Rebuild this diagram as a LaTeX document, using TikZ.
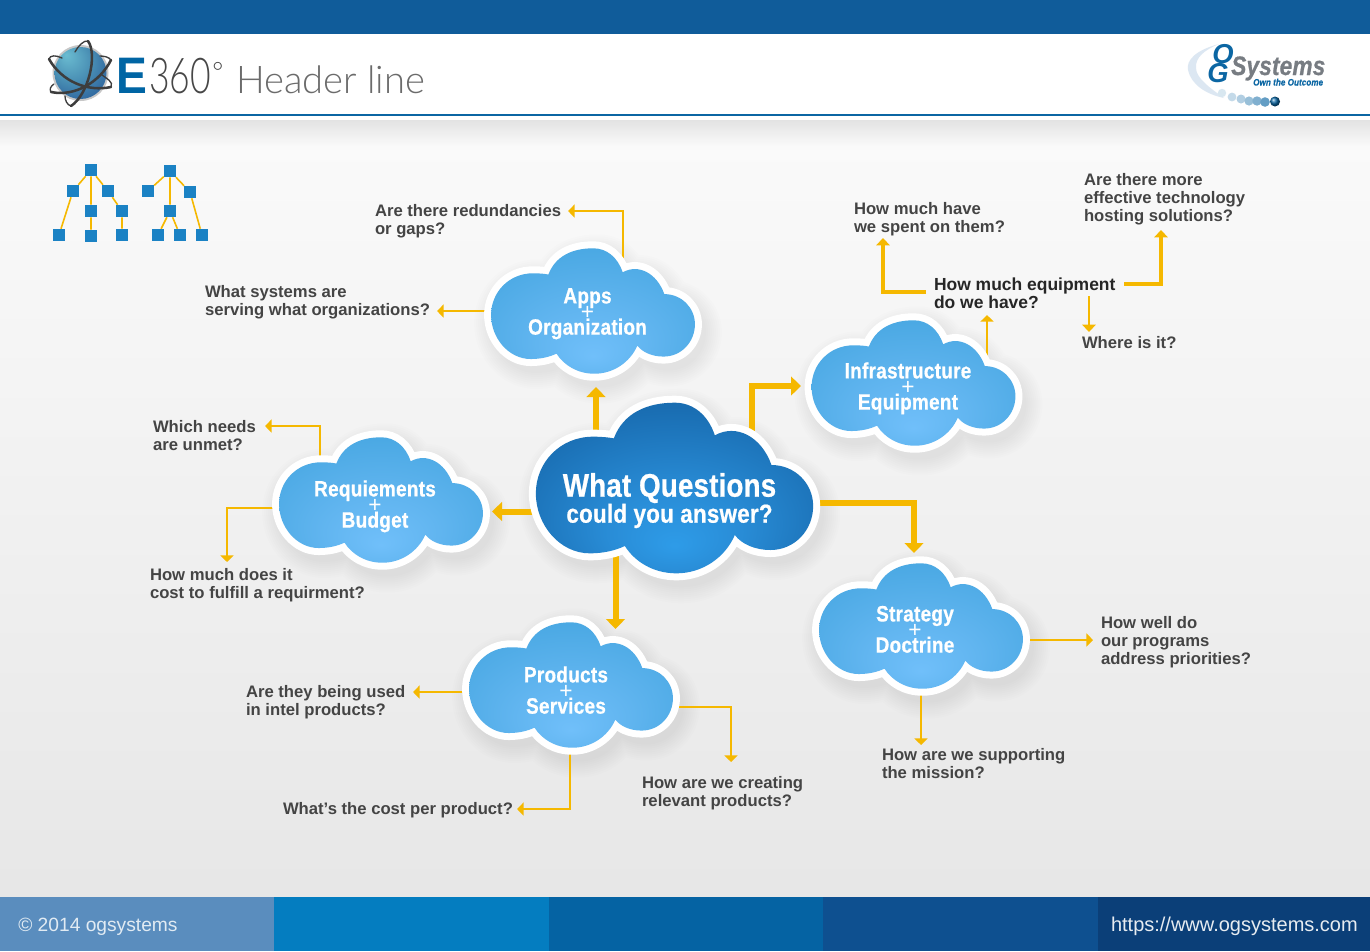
\documentclass[tikz,border=0pt]{standalone}
\usepackage{fontspec}
\setmainfont{Liberation Sans}
\newfontfamily\condfont[FakeStretch=0.85,LetterSpace=0.5,FakeBold=0.7]{Liberation Sans Bold}
\newfontfamily\condwide[FakeStretch=0.86,LetterSpace=1,FakeBold=0.7]{Liberation Sans Bold}
\newfontfamily\logofont[FakeStretch=0.9]{Liberation Sans Bold}
\newfontfamily\lightfont{Lato Light}
\newfontfamily\lightnarrow[FakeStretch=0.72]{Lato Light}
\usetikzlibrary{arrows.meta}
\lineskiplimit=-100pt
\definecolor{arrowy}{HTML}{F5B800}
\definecolor{topblue}{HTML}{105C9A}
\definecolor{linkblue}{HTML}{0B66A3}
\definecolor{sq}{HTML}{1B82C4}
\definecolor{qtext}{HTML}{444444}
\definecolor{foota}{HTML}{5A8DBE}
\definecolor{footb}{HTML}{047DC0}
\definecolor{footc}{HTML}{0563A3}
\definecolor{footd}{HTML}{0E5090}
\definecolor{foote}{HTML}{0B3F78}
\definecolor{orbit}{HTML}{3D3D3D}
\definecolor{logoblue}{HTML}{0065A4}
\definecolor{logogray}{HTML}{777C82}
\definecolor{swoosh}{HTML}{DCE7F2}
\pgfdeclareradialshading{mainshade}{\pgfpoint{0bp}{-17bp}}{rgb(0bp)=(0.18,0.61,0.91); rgb(12bp)=(0.16,0.55,0.84); rgb(30bp)=(0.10,0.43,0.70); rgb(50bp)=(0.07,0.36,0.62)}
\pgfdeclareradialshading{smallshade}{\pgfpoint{0bp}{-18bp}}{rgb(0bp)=(0.44,0.75,0.98); rgb(14bp)=(0.38,0.71,0.94); rgb(32bp)=(0.29,0.66,0.89); rgb(50bp)=(0.27,0.64,0.88)}
\pgfdeclareradialshading{globeshade}{\pgfpoint{-14bp}{18bp}}{rgb(0bp)=(0.42,0.74,0.82); rgb(20bp)=(0.28,0.55,0.70); rgb(38bp)=(0.16,0.36,0.60); rgb(50bp)=(0.12,0.28,0.55)}
\pgfdeclarelayer{bgpage}
\pgfdeclarelayer{shadowlayer}
\pgfdeclarelayer{links}
\pgfsetlayers{bgpage,shadowlayer,links,main}
\tikzset{
  cloudoutline/.style={insert path={
    (402,175) .. controls (430,100) and (500,68) .. (585,68)
    .. controls (640,68) and (685,105) .. (705,166)
    .. controls (770,130) and (845,170) .. (875,255)
    .. controls (945,255) and (1000,310) .. (1000,378)
    .. controls (1000,450) and (945,510) .. (872,510)
    .. controls (825,510) and (785,492) .. (765,465)
    .. controls (735,535) and (665,580) .. (590,580)
    .. controls (520,580) and (465,545) .. (435,498)
    .. controls (405,512) and (370,520) .. (330,520)
    .. controls (240,520) and (168,435) .. (168,340)
    .. controls (168,248) and (240,170) .. (340,170)
    .. controls (365,170) and (385,172) .. (402,175) -- cycle}},
  qnode/.style={inner sep=0pt,outer sep=0pt,anchor=west,align=left,text=qtext,font=\fontsize{12.5}{13.5}\selectfont\bfseries},
  thick link/.style={draw=arrowy,line width=4.5pt,-{Triangle[length=7.5pt,width=14pt]}},
  mid link/.style={draw=arrowy,line width=2.7pt,-{Triangle[length=5.5pt,width=10pt]}},
  thin link/.style={draw=arrowy,line width=1.8pt,-{Triangle[length=5pt,width=9.75pt]}},
  smallc/.style={inner sep=0pt,align=center,text=white,font=\condwide\fontsize{16.6}{11.7}\selectfont},
  sqnode/.style={fill=sq,inner sep=0pt,minimum size=9pt},
  treeline/.style={draw=arrowy,line width=1.2pt},
  foot/.style={inner sep=0pt,font=\fontsize{14.4}{16}\selectfont}
}
\newcommand{\cloudbody}[4]{%
  \begin{pgfonlayer}{shadowlayer}
  \begin{scope}[shift={(#1+5,#2+8)},scale=#3,shift={(-584,-324)}]
    \foreach \w in {44,40,...,12}{\draw[draw=black,opacity=0.009,line join=round,line width=\w*0.75pt,cloudoutline];}
  \end{scope}
  \end{pgfonlayer}
  \begin{scope}[shift={(#1,#2)},scale=#3,shift={(-584,-324)}]
    \draw[draw=white,line join=round,line width=10.5pt,cloudoutline];
    \path[shading=#4,cloudoutline];
  \end{scope}}
\newcommand{\threelines}[2]{\rule{0pt}{13pt}#1\\{\normalfont\fontsize{17}{11.7}\selectfont +}\\#2\rule[-4pt]{0pt}{4pt}}
\begin{document}
\begin{tikzpicture}[x=0.75pt,y=-0.75pt]
\useasboundingbox (0,0) rectangle (1370,951);
% page
\begin{pgfonlayer}{bgpage}
\fill[white] (0,0) rectangle (1370,951);
\fill[topblue] (0,0) rectangle (1370,34);
\fill[linkblue] (0,114) rectangle (1370,116);
\shade[top color=black!11,bottom color=black!2] (0,120) rectangle (1370,146);
\shade[top color=black!2,bottom color=black!9.5] (0,146) rectangle (1370,897);
\fill[foota] (0,897) rectangle (274,951);
\fill[footb] (274,897) rectangle (549,951);
\fill[footc] (549,897) rectangle (823,951);
\fill[footd] (823,897) rectangle (1098,951);
\fill[foote] (1098,897) rectangle (1370,951);
\end{pgfonlayer}
\node[foot,anchor=west,text=white!82!foota] (copy) at (18,926.5) {© 2014 ogsystems};
\node[foot,anchor=east,text=white!90!foote,font=\fontsize{15}{16}\selectfont] (url) at (1358,926.5) {https://www.ogsystems.com};
% E360 logo
\fill[black!22] (80.5,73) circle (28);
\path[shading=globeshade] (80.5,73) circle (26);
\begin{scope}[draw=orbit,line cap=round]
\draw[line width=1.9pt] (49,59) .. controls (62,82) and (88,92) .. (111,87);
\draw[line width=1pt] (49,59) .. controls (50,55) and (56,55) .. (62,58);
\draw[line width=1pt] (111,87) .. controls (114,82) and (106,78) .. (102,75);
\draw[line width=1.9pt] (88,41) .. controls (98,55) and (88,95) .. (71,106);
\draw[line width=1pt] (88,41) .. controls (84,40) and (78,46) .. (75,52);
\draw[line width=1pt] (71,106) .. controls (67,105) and (65,100) .. (65,96);
\draw[line width=1.9pt] (51,92) .. controls (75,97) and (100,82) .. (111,60);
\draw[line width=1pt] (111,60) .. controls (109,57) and (104,56) .. (100,56);
\draw[line width=1pt] (51,92) .. controls (49,89) and (51,86) .. (54,84);
\end{scope}
\node[inner sep=0pt,anchor=base west,text=logoblue,font=\logofont\fontsize{38.5}{40}\selectfont] (logoe) at (116,93) {E};
\node[inner sep=0pt,anchor=base west,text=black!72,font=\lightnarrow\fontsize{37}{37}\selectfont] (logo360) at (149,93) {360};
\node[inner sep=0pt,anchor=base west,text=black!72,font=\lightfont\fontsize{20}{20}\selectfont] (logodeg) at (212,81) {°};
\node[inner sep=0pt,anchor=base west,text=black!58,font=\lightfont\fontsize{28.6}{28}\selectfont] (headerline) at (236,93) {Header line};
% OG logo
\fill[swoosh] (1219,44) .. controls (1196,50) and (1186,60) .. (1188,70) .. controls (1191,84) and (1205,94) .. (1224,98) .. controls (1210,88) and (1196,78) .. (1196,68) .. controls (1195,58) and (1204,50) .. (1219,44) -- cycle;
\foreach \px/\py/\rr/\cc in {1222/93/4.2/16,1232/97/4.4/24,1241/99/4.5/32,1249/101/4.6/42,1257/101/4.7/52,1265/102/4.8/64}{
  \fill[linkblue!\cc!white] (\px,\py) circle (\rr);}
\shade[ball color=linkblue] (1275,101.5) circle (5);
\node[inner sep=0pt,text=linkblue,font=\fontsize{20.5}{24}\selectfont\bfseries\itshape] (logoo) at (1223,54) {O};
\node[inner sep=0pt,text=linkblue,font=\fontsize{20.5}{24}\selectfont\bfseries\itshape] (logog) at (1218,73) {G};
\node[inner sep=0pt,anchor=base west,text=logogray,font=\condfont\fontsize{20}{19}\selectfont\itshape] (logosys) at (1231,75) {Systems};
\node[inner sep=0pt,anchor=base west,text=linkblue,font=\condwide\fontsize{7}{7}\selectfont\itshape] (logoown) at (1253,85.5) {Own the Outcome};
% tree icon
\foreach \n/\a/\b in {a0/91/170,a1/73/191,a2/108/191,a3/91/211,a4/122/211,a5/59/235,a6/91/236,a7/122/235,b0/170/171,b1/148/191,b2/190/192,b3/170/211,b4/158/235,b5/180/235,b6/202/235}{
  \node[sqnode] (\n) at (\a,\b) {};}
\begin{pgfonlayer}{links}
\draw[treeline] (a0)--(a1) (a0)--(a2) (a0)--(a3) (a3)--(a6) (a1)--(a5) (a2)--(a4) (a4)--(a7);
\draw[treeline] (b0)--(b1) (b0)--(b2) (b0)--(b3) (b2)--(b6) (b3)--(b4) (b3)--(b5);
\end{pgfonlayer}
% clouds
\cloudbody{674.5}{488}{0.3333}{mainshade}
\cloudbody{913.5}{383}{0.245}{smallshade}
\cloudbody{593}{311}{0.245}{smallshade}
\cloudbody{381}{500}{0.245}{smallshade}
\cloudbody{571}{685}{0.245}{smallshade}
\cloudbody{921}{626}{0.245}{smallshade}
\node[inner sep=0pt,align=center,text=white,font=\condwide\fontsize{19.5}{19.5}\selectfont] (main) at (669.5,501) {\rule{0pt}{18pt}{\condfont\fontsize{24.5}{19.5}\selectfont What Questions}\\could you answer?\rule[-5pt]{0pt}{5pt}};
\node[smallc] (infra) at (908,388) {\threelines{Infrastructure}{Equipment}};
\node[smallc] (apps) at (587.5,313) {\threelines{Apps}{Organization}};
\node[smallc] (reqs) at (375,506) {\threelines{Requiements}{Budget}};
\node[smallc] (prods) at (566,692) {\threelines{Products}{Services}};
\node[smallc] (strat) at (915,631) {\threelines{Strategy}{Doctrine}};
% questions
\node[qnode] (redund) at (375,221) {Are there redundancies\\or gaps?};
\node[qnode] (systems) at (205,302) {What systems are\\serving what organizations?};
\node[qnode] (spent) at (854,219) {How much have\\we spent on them?};
\node[qnode] (more) at (1084,199) {Are there more\\effective technology\\hosting solutions?};
\node[qnode,text=black!85,font=\fontsize{13.1}{13.5}\selectfont\bfseries] (equip) at (934,293) {How much equipment\\do we have?};
\node[qnode] (where) at (1082,343) {Where is it?};
\node[qnode] (unmet) at (153,436) {Which needs\\are unmet?};
\node[qnode] (fulfil) at (150,585) {How much does it\\cost to fulfill a requirment?};
\node[qnode] (used) at (246,702) {Are they being used\\in intel products?};
\node[qnode] (perprod) at (283,810) {What’s the cost per product?};
\node[qnode] (relevant) at (642,793) {How are we creating\\relevant products?};
\node[qnode] (support) at (882,764) {How are we supporting\\the mission?};
\node[qnode] (well) at (1101,642) {How well do\\our programs\\address priorities?};
% connector way points
\coordinate (m1) at (596,387);
\coordinate (m2) at (751.5,386);
\coordinate (m2t) at (801,386);
\coordinate (m3) at (492,511.5);
\coordinate (m4) at (615.5,629);
\coordinate (m5) at (914,503);
\coordinate (m5t) at (914,553);
\coordinate (a1) at (623,211);
\coordinate (a1t) at (568,211);
\coordinate (a2t) at (437,311);
\coordinate (i1t) at (987,315);
\coordinate (e1) at (883,292);
\coordinate (e1t) at (883,238);
\coordinate (e2) at (1161,284);
\coordinate (e2t) at (1161,230);
\coordinate (e3t) at (1089,332);
\coordinate (r1) at (320,426);
\coordinate (r1t) at (265,426);
\coordinate (r2) at (227,508);
\coordinate (r2t) at (227,562);
\coordinate (p1t) at (413,692);
\coordinate (p2) at (731,707);
\coordinate (p2t) at (731,762);
\coordinate (p3) at (570,809);
\coordinate (p3t) at (517,809);
\coordinate (s1t) at (1093,640);
\coordinate (s2t) at (921,745);
\begin{pgfonlayer}{links}
\draw[thick link] (main -| m1) -- (m1);
\draw[thick link] (main -| m2) -- (m2) -- (m2t);
\draw[thick link] (main |- m3) -- (m3);
\draw[thick link] (main -| m4) -- (m4);
\draw[thick link,line width=3.8pt] (main |- m5) -- (m5) -- (m5t);
\draw[thin link] (apps -| a1) -- (a1) -- (a1t);
\draw[thin link] (apps |- a2t) -- (a2t);
\draw[thin link] (infra -| i1t) -- (i1t);
\draw[mid link,shorten <=6pt] (equip.west |- e1) -- (e1) -- (e1t);
\draw[mid link,shorten <=6.5pt] (equip.east |- e2) -- (e2) -- (e2t);
\draw[mid link,line width=2.2pt] (equip.east -| e3t) ++(0,3) -- (e3t);
\draw[thin link] (reqs -| r1) -- (r1) -- (r1t);
\draw[thin link] (reqs |- r2) -- (r2) -- (r2t);
\draw[thin link] (prods |- p1t) -- (p1t);
\draw[thin link] (prods |- p2) -- (p2) -- (p2t);
\draw[thin link] (prods -| p3) -- (p3) -- (p3t);
\draw[thin link] (strat |- s1t) -- (s1t);
\draw[thin link] (strat -| s2t) -- (s2t);
\end{pgfonlayer}
\end{tikzpicture}
\end{document}
